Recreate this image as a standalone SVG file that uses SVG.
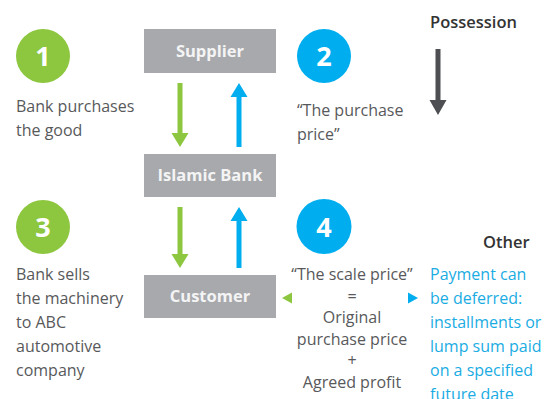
<svg xmlns="http://www.w3.org/2000/svg" width="558" height="399" viewBox="0 0 558 399">
<style>
.box{fill:#a7a9ac}
.boxt{font-family:"Open Sans","Liberation Sans",sans-serif;font-weight:700;font-size:16.5px;fill:#f4f4f5;text-anchor:middle}
.num{font-family:"Open Sans","Liberation Sans",sans-serif;font-weight:700;font-size:27px;fill:#ffffff;text-anchor:middle}
.t{font-family:"Open Sans","Liberation Sans",sans-serif;font-size:16px;fill:#58595b}
.tc{font-family:"Open Sans","Liberation Sans",sans-serif;font-size:16px;fill:#58595b;text-anchor:middle}
.tb{font-family:"Open Sans","Liberation Sans",sans-serif;font-size:16px;fill:#1aace3}
.h{font-family:"Open Sans","Liberation Sans",sans-serif;font-weight:600;font-size:16.5px;fill:#333333}
.g{fill:#8dc63f}
.b{fill:#00aeef}
.d{fill:#4d4f53}
</style>
<g id="supplier"><rect class="box" x="144" y="29" width="132" height="44"/><text class="boxt" x="210" y="57">Supplier</text></g>
<g id="islamic-bank"><rect class="box" x="144" y="154" width="132" height="43"/><text class="boxt" x="210" y="181">Islamic Bank</text></g>
<g id="customer"><rect class="box" x="144" y="275" width="132" height="43"/><text class="boxt" x="210" y="302">Customer</text></g>
<g id="step1"><circle class="g" cx="43" cy="56" r="27"/><text class="num" x="43" y="66">1</text>
<text class="t" x="16" y="112">Bank purchases</text><text class="t" x="16" y="136">the good</text></g>
<g id="step2"><circle class="b" cx="324" cy="56" r="27"/><text class="num" x="324" y="66">2</text>
<text class="t" x="297" y="116">“The purchase</text><text class="t" x="297" y="140">price”</text></g>
<g id="step3"><circle class="g" cx="43" cy="227" r="27"/><text class="num" x="43" y="237">3</text>
<text class="t" x="16" y="280">Bank sells</text><text class="t" x="16" y="304">the machinery</text><text class="t" x="16" y="328">to ABC</text><text class="t" x="16" y="352">automotive</text><text class="t" x="16" y="376">company</text></g>
<g id="step4"><circle class="b" cx="324" cy="226.5" r="27.5"/><text class="num" x="324" y="236.5">4</text>
<text class="tc" x="352" y="280">“The scale price”</text><text class="tc" x="352" y="302">=</text><text class="tc" x="352" y="323">Original</text><text class="tc" x="352" y="345">purchase price</text><text class="tc" x="352" y="366">+</text><text class="tc" x="352" y="388">Agreed profit</text></g>
<g id="possession"><text class="h" x="430" y="28">Possession</text></g>
<g id="other"><text class="h" x="483" y="248">Other</text>
<text class="tb" x="430" y="280">Payment can</text><text class="tb" x="430" y="304">be deferred:</text><text class="tb" x="430" y="328">installments or</text><text class="tb" x="430" y="352">lump sum paid</text><text class="tb" x="430" y="376">on a specified</text><text class="tb" x="430" y="400">future date</text></g>
<g id="connectors">
<polygon class="g" points="177.5,83 182.5,83 182.5,133 188.5,133 180,147 171.5,133 177.5,133"/>
<polygon class="b" points="239,83 247.5,97 241.5,97 241.5,147 236.5,147 236.5,97 230.5,97"/>
<polygon class="g" points="177.5,207 182.5,207 182.5,254 188.5,254 180,268 171.5,254 177.5,254"/>
<polygon class="b" points="239,207 247.5,221 241.5,221 241.5,268 236.5,268 236.5,221 230.5,221"/>
<polygon class="d" points="435.5,49 440.5,49 440.5,100 446.5,100 438,115 429.5,100 435.5,100"/>
<polygon class="g" points="282,298 292,292.5 292,303.5"/>
<polygon class="b" points="418,298 408,292.5 408,303.5"/>
</g>
</svg>
